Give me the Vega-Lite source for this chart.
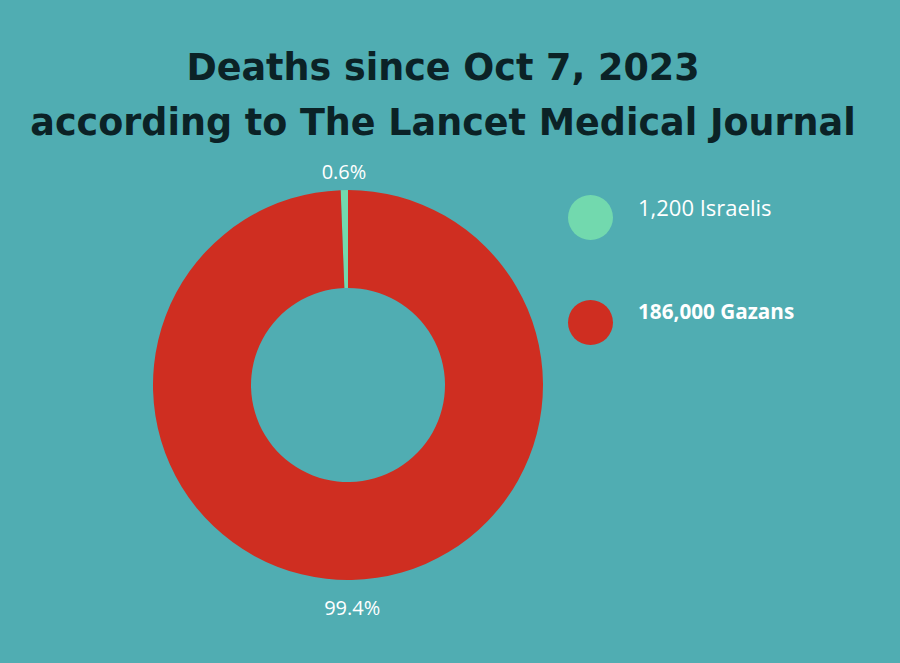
{
  "$schema": "https://vega.github.io/schema/vega-lite/v6.json",
  "description": "Deaths since Oct 7, 2023",
  "width": 400,
  "height": 400,
  "autosize": "none",
  "padding": {"left": 148, "top": 185, "right": 352, "bottom": 78},
  "background": "#50adb2",
  "config": {"view": {"stroke": "transparent"}},
  "title": {
    "text": ["Deaths since Oct 7, 2023", "according to The Lancet Medical Journal"],
    "font": "DejaVu Sans",
    "fontWeight": 700,
    "fontSize": 36.5,
    "lineHeight": 55,
    "color": "#0b2226",
    "anchor": "middle",
    "dx": 95,
    "offset": 21
  },
  "data": {"values": [
    {"group": "1,200 Israelis", "label": "0.6%", "order": 1, "share": 0.6},
    {"group": "186,000 Gazans", "label": "99.4%", "order": 2, "share": 99.4}
  ]},
  "encoding": {
    "theta": {"field": "share", "type": "quantitative", "stack": true, "scale": {"range": [-0.0377, 6.2455]}},
    "order": {"field": "order"}
  },
  "layer": [
    {
      "mark": {"type": "arc", "innerRadius": 97, "outerRadius": 195},
      "encoding": {
        "color": {
          "field": "group",
          "type": "nominal",
          "scale": {"domain": ["1,200 Israelis", "186,000 Gazans"], "range": ["#72d9ae", "#cf2e21"]},
          "legend": {
            "orient": "none",
            "legendX": 420,
            "legendY": 10,
            "title": null,
            "symbolType": "circle",
            "symbolSize": 2025,
            "symbolStrokeWidth": 0,
            "rowPadding": 60,
            "labelOffset": 25,
            "labelFont": "Open Sans",
            "labelFontSize": 21,
            "labelColor": "white",
            "labelLimit": 250,
            "encode": {
              "labels": {"update": {
                "fontWeight": {"signal": "datum.value == '186,000 Gazans' ? 700 : 400"},
                "fontSize": {"signal": "datum.value == '186,000 Gazans' ? 20.7 : 22"},
                "dy": {"signal": "datum.value == '186,000 Gazans' ? -10 : -9"}
              }}
            }
          }
        }
      }
    },
    {
      "mark": {
        "type": "text",
        "radius": {"expr": "datum.order == 1 ? 212 : 224"},
        "font": "Open Sans",
        "fontSize": 20,
        "color": "white"
      },
      "encoding": {"text": {"field": "label"}}
    }
  ]
}
